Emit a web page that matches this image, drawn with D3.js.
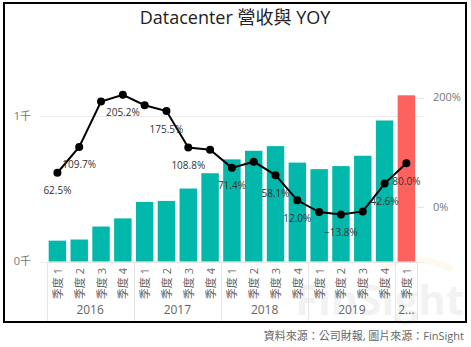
<!DOCTYPE html>
<html>
<head>
<meta charset="utf-8">
<script src="https://cdn.jsdelivr.net/npm/d3@7/dist/d3.min.js"></script>
<style>
  html, body { margin: 0; padding: 0; background: #fff; }
  svg { display: block; }
  text { font-family: "Open Sans", "Noto Sans", "Noto Sans CJK TC", sans-serif; }
</style>
</head>
<body>
<svg id="chart" width="471" height="347"></svg>
<script>
// ---- data ----
const categoryYear = ["2016","2016","2016","2016","2017","2017","2017","2017","2018","2018","2018","2018","2019","2019","2019","2019","2020"];
const categoryQuarter = ["季度 1","季度 2","季度 3","季度 4","季度 1","季度 2","季度 3","季度 4","季度 1","季度 2","季度 3","季度 4","季度 1","季度 2","季度 3","季度 4","季度 1"];
const years = ["2016","2017","2018","2019","2020"];
const revenue = [143, 151, 240, 296, 409, 416, 501, 606, 701, 760, 792, 679, 634, 655, 726, 968, 1141];
const yoy = [62.5, 109.7, 192.7, 205.2, 186.0, 175.5, 108.8, 104.7, 71.4, 82.7, 58.1, 12.0, -9.6, -13.8, -8.3, 42.6, 80.0];
const labeledPoints = [0, 1, 3, 5, 6, 8, 10, 11, 13, 15, 16];
const highlightIndex = 16;
const leftTicks = [0, 1000];
const leftTickLabels = ["0千", "1千"];
const rightTicks = [0, 200];
const rightTickLabels = ["0%", "200%"];
const title = "Datacenter 營收與 YOY";
const footer = "資料來源：公司財報, 圖片來源：FinSight";

// ---- layout ----
const svg = d3.select("#chart");
const plotTop = 43, plotBottom = 261.5;
const xLeft = 46.5, xRight = 417.3;

const ids = d3.range(revenue.length);
const x = d3.scaleBand().domain(ids).range([xLeft, xRight]).paddingInner(0.2).paddingOuter(0.1);
const yL = d3.scaleLinear().domain([0, 1500]).range([plotBottom, plotTop]);
const yR = d3.scaleLinear().domain([-100, 300]).range([plotBottom, plotTop]);

// outer border
svg.append("rect").attr("x", 4).attr("y", 3).attr("width", 462).attr("height", 319)
  .attr("fill", "#fff").attr("stroke", "#000").attr("stroke-width", 2);

// watermark
const wm = svg.append("g").attr("opacity", 0.07);
wm.append("path")
  .attr("d", "M384,266 Q418,253 450,268")
  .attr("fill", "none").attr("stroke", "#f7a21b").attr("stroke-width", 6).attr("stroke-linecap", "round");
wm.append("text").attr("x", 295).attr("y", 315).attr("font-size", 42).attr("font-weight", "bold")
  .attr("fill", "#555").text("FinSight");

// title
svg.append("text").attr("x", 235).attr("y", 24).attr("text-anchor", "middle")
  .attr("font-size", 18).attr("fill", "#222").text(title);

// gridlines (left axis)
svg.append("g").selectAll("line").data(leftTicks).join("line")
  .attr("x1", 40).attr("x2", 424)
  .attr("y1", d => Math.round(yL(d)) + 0.5).attr("y2", d => Math.round(yL(d)) + 0.5)
  .attr("stroke", "#eaeaea").attr("stroke-width", 1);

// left axis labels
svg.append("g").selectAll("text").data(leftTicks).join("text")
  .attr("x", 31).attr("y", d => yL(d)).attr("dy", "0.35em").attr("text-anchor", "end")
  .attr("font-size", 11).attr("fill", "#777").text((d, i) => leftTickLabels[i]);

// right axis ticks + labels
svg.append("g").selectAll("line").data(rightTicks).join("line")
  .attr("x1", 417).attr("x2", 424)
  .attr("y1", d => Math.round(yR(d)) + 0.5).attr("y2", d => Math.round(yR(d)) + 0.5)
  .attr("stroke", "#e6e6e6");
svg.append("g").selectAll("text").data(rightTicks).join("text")
  .attr("x", 433).attr("y", d => yR(d)).attr("dy", "0.35em").attr("text-anchor", "start")
  .attr("font-size", 11).attr("fill", "#777").text((d, i) => rightTickLabels[i]);

// bars
svg.append("g").selectAll("rect").data(ids).join("rect")
  .attr("x", i => x(i)).attr("width", x.bandwidth())
  .attr("y", i => yL(revenue[i])).attr("height", i => yL(0) - yL(revenue[i]))
  .attr("fill", i => i === highlightIndex ? "#FD625E" : "#01B8AA");

// x axis line
svg.append("line").attr("x1", xLeft).attr("x2", xRight)
  .attr("y1", Math.round(plotBottom) + 0.5).attr("y2", Math.round(plotBottom) + 0.5)
  .attr("stroke", "#e6e6e6");

// quarter labels (rotated)
svg.append("g").selectAll("text").data(ids).join("text")
  .attr("transform", i => `translate(${x(i) + x.bandwidth() / 2},268) rotate(-90)`)
  .attr("text-anchor", "end").attr("dominant-baseline", "central")
  .attr("font-size", 11).attr("fill", "#666").text(i => categoryQuarter[i]);

// year groups
const groups = years.map(yv => {
  const idx = ids.filter(i => categoryYear[i] === yv);
  const first = idx[0], last = idx[idx.length - 1];
  const step = x.step();
  const x0 = x(first) - (step - x.bandwidth()) / 2;
  const x1 = x(last) + x.bandwidth() + (step - x.bandwidth()) / 2;
  return { year: yv, x0: Math.max(x0, xLeft), x1: Math.min(x1, xRight) };
});
const sepXs = [xLeft].concat(groups.map(g => g.x1));
svg.append("g").selectAll("line").data(sepXs).join("line")
  .attr("x1", d => Math.round(d) + 0.5).attr("x2", d => Math.round(d) + 0.5)
  .attr("y1", 262).attr("y2", 321).attr("stroke", "#e6e6e6");
svg.append("g").selectAll("text").data(groups).join("text")
  .attr("x", g => (g.x0 + g.x1) / 2).attr("y", 314).attr("text-anchor", "middle")
  .attr("font-size", 12).attr("fill", "#666")
  .text(g => g.year)
  .each(function(g) {
    const el = d3.select(this);
    const maxW = g.x1 - g.x0 - 2;
    if (this.getComputedTextLength() > maxW) {
      let s = g.year;
      while (s.length > 1) {
        s = s.slice(0, -1);
        el.text(s + "...");
        if (this.getComputedTextLength() <= maxW) break;
      }
    }
  });

// YOY line
const line = d3.line().x(i => x(i) + x.bandwidth() / 2).y(i => yR(yoy[i]));
svg.append("path").datum(ids).attr("d", line)
  .attr("fill", "none").attr("stroke", "#000").attr("stroke-width", 2);
svg.append("g").selectAll("circle").data(ids).join("circle")
  .attr("cx", i => x(i) + x.bandwidth() / 2).attr("cy", i => yR(yoy[i])).attr("r", 4)
  .attr("fill", "#000");

// point labels
svg.append("g").selectAll("text").data(labeledPoints).join("text")
  .attr("x", i => x(i) + x.bandwidth() / 2).attr("y", i => yR(yoy[i]) + 18)
  .attr("dy", "0.35em").attr("text-anchor", "middle")
  .attr("font-size", 10).attr("fill", "#333")
  .text(i => d3.format(".1f")(yoy[i]) + "%");

// footer
svg.append("text").attr("x", 464).attr("y", 340).attr("text-anchor", "end")
  .attr("font-size", 11).attr("fill", "#666").text(footer);
</script>
</body>
</html>
